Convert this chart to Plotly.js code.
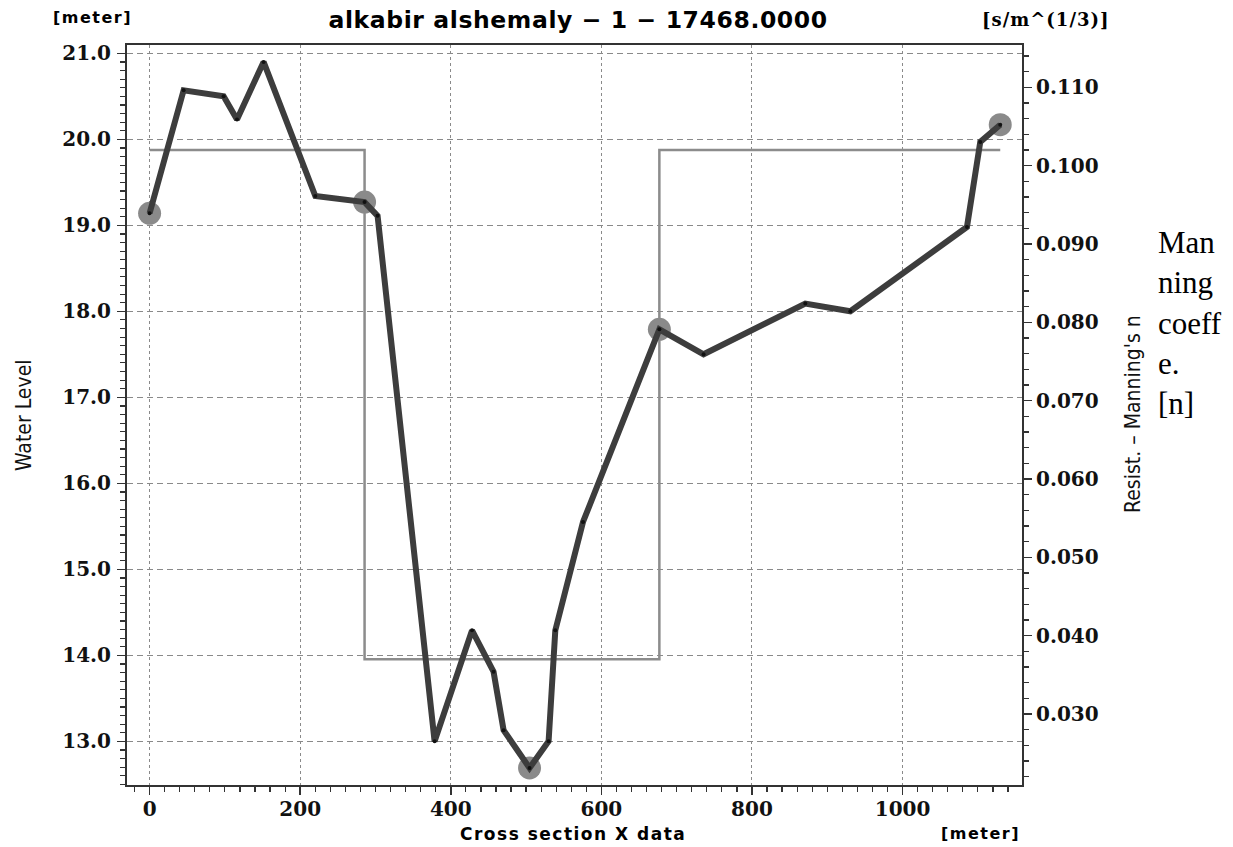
<!DOCTYPE html>
<html>
<head>
<meta charset="utf-8">
<script src="https://cdn.plot.ly/plotly-3.0.1.min.js"></script>
<style>
  html, body { margin: 0; padding: 0; background: #fff; }
  #chart { width: 1233px; height: 847px; }
</style>
</head>
<body>
<div id="chart"></div>
<script>
// ---- data ----
const sectionX = [0, 45.2, 98.3, 116.1, 151.4, 220.1, 285.5, 302.8, 378.5, 428.2, 456.8, 470.1,
                  504.6, 529.9, 538.8, 575.6, 677.0, 735.7, 870.8, 930.6, 1085.5, 1103.2, 1129.7];
const waterLevel = [19.14, 20.57, 20.50, 20.23, 20.90, 19.34, 19.27, 19.11, 13.00, 14.29, 13.81, 13.13,
                    12.69, 13.00, 14.29, 15.55, 17.79, 17.50, 18.09, 18.00, 18.98, 19.97, 20.17];
const markerIdx = [0, 6, 12, 16, 22];
const manningX = [0, 285.5, 677.0, 1129.7];
const manningN = [0.102, 0.037, 0.102, 0.102];
const xTicks = [0, 200, 400, 600, 800, 1000];
const titleText = 'alkabir alshemaly \u2212 1 \u2212 17468.0000';

const markX = markerIdx.map(i => sectionX[i]);
const markY = markerIdx.map(i => waterLevel[i]);

const axisColor = '#333333';
const gridColor = '#8a8a8a';
const tickFont = {family: 'DejaVu Serif', size: 20, color: '#111', weight: 'bold'};

const traces = [
  { // Manning's n step line (main y axis, right side)
    x: manningX, y: manningN, type: 'scatter', mode: 'lines',
    line: {shape: 'hv', color: '#8c8c8c', width: 2.5},
    yaxis: 'y', hoverinfo: 'skip', showlegend: false
  },
  { // big grey markers
    x: markX, y: markY, type: 'scatter', mode: 'markers',
    marker: {size: 23, color: '#8a8a8a'},
    yaxis: 'y2', showlegend: false
  },
  { // water level profile
    x: sectionX, y: waterLevel, type: 'scatter', mode: 'lines+markers',
    line: {color: '#3d3d3d', width: 6},
    marker: {size: 4, color: '#111'},
    yaxis: 'y2', showlegend: false
  }
];

function spaced(t, ls) { return '<span style="letter-spacing:' + ls + 'px">' + t + '</span>'; }

const layout = {
  width: 1233, height: 847,
  paper_bgcolor: '#ffffff', plot_bgcolor: '#ffffff',
  margin: {l: 127, r: 211, t: 45, b: 62, pad: 0},
  showlegend: false,
  title: {
    text: spaced(titleText, 0.6),
    font: {family: 'DejaVu Sans', size: 23.5, color: '#000', weight: 'bold'},
    xref: 'paper', x: 0.504, xanchor: 'center',
    yref: 'container', y: 0.977, yanchor: 'middle'
  },
  xaxis: {
    range: [-30.0, 1158.6],
    tickvals: xTicks, ticktext: xTicks.map(String),
    showgrid: true, gridcolor: gridColor, gridwidth: 1, griddash: '3px,3px',
    zeroline: false,
    showline: true, linecolor: axisColor, linewidth: 2, mirror: true,
    ticks: 'outside', ticklen: 8, tickwidth: 1.5, tickcolor: axisColor,
    minor: {dtick: 20, tick0: 0, ticks: 'outside', ticklen: 5, tickwidth: 1.2, tickcolor: axisColor, showgrid: false},
    tickfont: tickFont, ticklabelstandoff: -3
  },
  yaxis: { // Manning's n, right
    side: 'right',
    range: [0.02094, 0.1154],
    dtick: 0.01, tick0: 0, tickformat: '.3f',
    showgrid: false, zeroline: false,
    showline: true, linecolor: axisColor, linewidth: 2,
    ticks: 'outside', ticklen: 8, tickwidth: 1.5, tickcolor: axisColor,
    minor: {dtick: 0.002, tick0: 0, ticks: 'outside', ticklen: 5, tickwidth: 1.2, tickcolor: axisColor, showgrid: false},
    tickfont: tickFont, ticklabelstandoff: 0
  },
  yaxis2: { // water level, left
    overlaying: 'y', side: 'left',
    range: [12.492, 21.0965],
    dtick: 1, tick0: 0, tickformat: '.1f',
    showgrid: true, gridcolor: gridColor, gridwidth: 1, griddash: '6px,4px',
    zeroline: false,
    showline: true, linecolor: axisColor, linewidth: 2,
    ticks: 'outside', ticklen: 8, tickwidth: 1.5, tickcolor: axisColor,
    minor: {dtick: 0.1, tick0: 0, ticks: 'outside', ticklen: 5, tickwidth: 1.2, tickcolor: axisColor, showgrid: false},
    tickfont: tickFont, ticklabelstandoff: 2
  },
  annotations: [
    {text: spaced('[meter]', 1.5), xref: 'paper', yref: 'paper', x: -0.0391, y: 1.0378,
     xanchor: 'center', yanchor: 'middle', showarrow: false,
     font: {family: 'DejaVu Sans', size: 16, color: '#000', weight: 'bold'}},
    {text: spaced('[s/m^(1/3)]', 1), xref: 'paper', yref: 'paper', x: 1.0268, y: 1.0338,
     xanchor: 'center', yanchor: 'middle', showarrow: false,
     font: {family: 'DejaVu Serif', size: 18, color: '#000', weight: 'bold'}},
    {text: spaced('Cross section X data', 1.5), xref: 'paper', yref: 'paper', x: 0.4983, y: -0.066,
     xanchor: 'center', yanchor: 'middle', showarrow: false,
     font: {family: 'DejaVu Sans', size: 17, color: '#000', weight: 'bold'}},
    {text: spaced('[meter]', 1.5), xref: 'paper', yref: 'paper', x: 1.0, y: -0.066,
     xanchor: 'right', yanchor: 'middle', showarrow: false,
     font: {family: 'DejaVu Sans', size: 16, color: '#000', weight: 'bold'}},
    {text: 'Water Level', xref: 'paper', yref: 'paper', x: -0.1151, y: 0.5,
     xanchor: 'center', yanchor: 'middle', textangle: -90, showarrow: false,
     font: {family: 'Liberation Sans Narrow, DejaVu Sans Condensed, Arial Narrow, Liberation Sans, sans-serif', size: 21, color: '#111'}},
    {text: 'Resist. \u2013 Manning\'s n', xref: 'paper', yref: 'paper', x: 1.124, y: 0.5014,
     xanchor: 'center', yanchor: 'middle', textangle: -90, showarrow: false,
     font: {family: 'Liberation Sans Narrow, DejaVu Sans Condensed, Arial Narrow, Liberation Sans, sans-serif', size: 21, color: '#111'}},
    {text: 'Man<br>ning<br>coeff<br>e.<br>[n]', xref: 'paper', yref: 'paper', x: 1.1497, y: 0.7595,
     xanchor: 'left', yanchor: 'top', align: 'left', showarrow: false,
     font: {family: 'Liberation Serif, Times New Roman, serif', size: 31, color: '#000'}}
  ]
};

Plotly.newPlot('chart', traces, layout, {staticPlot: true, displayModeBar: false});
</script>
</body>
</html>
